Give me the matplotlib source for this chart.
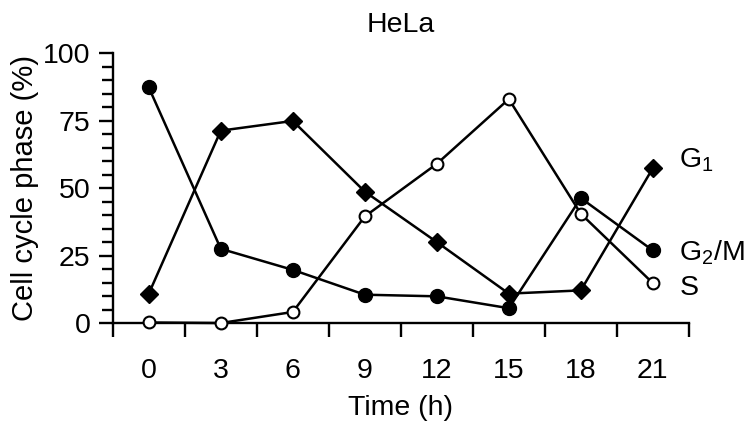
import matplotlib
matplotlib.use("Agg")
import matplotlib.pyplot as plt
from matplotlib.ticker import MultipleLocator, FixedLocator

plt.rcParams['font.family'] = ['Liberation Sans', 'DejaVu Sans']
plt.rcParams['mathtext.fontset'] = 'custom'
plt.rcParams['mathtext.rm'] = 'Liberation Sans'

times = ["0", "3", "6", "9", "12", "15", "18", "21"]
g1 = [10.9, 71.3, 74.9, 48.7, 30.0, 10.9, 12.1, 57.4]
g2m = [87.3, 27.5, 19.7, 10.5, 9.9, 5.5, 46.3, 26.9]
s_phase = [0.2, 0.0, 4.1, 39.5, 59.0, 83.0, 40.5, 14.8]
series_labels = [r"G$_\mathrm{1}$", r"G$_\mathrm{2}$/M", "S"]
label_levels = [60.5, 26, 13]

FS = 20.5

fig = plt.figure(figsize=(7.52, 4.29), dpi=100)
ax = fig.add_axes([0.150, 0.247, 0.766, 0.629])

x = list(range(len(times)))
lw = 1.8
ax.plot(x, g1, color='black', lw=lw, marker='D', markersize=9.5, markerfacecolor='black',
        markeredgecolor='black', zorder=3, clip_on=False)
ax.plot(x, g2m, color='black', lw=lw, marker='o', markersize=10, markerfacecolor='black',
        markeredgecolor='black', zorder=4, clip_on=False)
ax.plot(x, s_phase, color='black', lw=lw, marker='o', markersize=8.5, markerfacecolor='white',
        markeredgecolor='black', markeredgewidth=1.5, zorder=5, clip_on=False)

for lab, lev in zip(series_labels, label_levels):
    ax.text(len(times) - 1 + 0.37, lev, lab, fontsize=FS, ha='left', va='center')

ax.set_xlim(-0.5, len(times) - 0.5)
ax.set_ylim(0, 100)

ax.xaxis.set_major_locator(FixedLocator([i - 0.5 for i in range(len(times) + 1)]))
ax.set_xticklabels([])
ax.xaxis.set_minor_locator(FixedLocator(x))
ax.set_xticklabels(times, minor=True)
ax.tick_params(axis='x', which='major', length=10, width=1.7, direction='out', labelbottom=False)
ax.tick_params(axis='x', which='minor', length=0, pad=25, labelsize=FS)

ax.yaxis.set_major_locator(MultipleLocator(25))
ax.yaxis.set_minor_locator(MultipleLocator(5))
ax.tick_params(axis='y', which='major', length=10, width=1.7, direction='out', labelsize=FS, pad=6)
ax.tick_params(axis='y', which='minor', length=8, width=1.7, direction='out')

for side in ['top', 'right']:
    ax.spines[side].set_visible(False)
for side in ['left', 'bottom']:
    ax.spines[side].set_linewidth(1.7)

ax.set_title("HeLa", fontsize=FS, pad=15)
ax.set_xlabel("Time (h)", fontsize=FS, labelpad=8)
ax.set_ylabel("Cell cycle phase (%)", fontsize=21, labelpad=3)

fig.savefig("out.png", dpi=100)
